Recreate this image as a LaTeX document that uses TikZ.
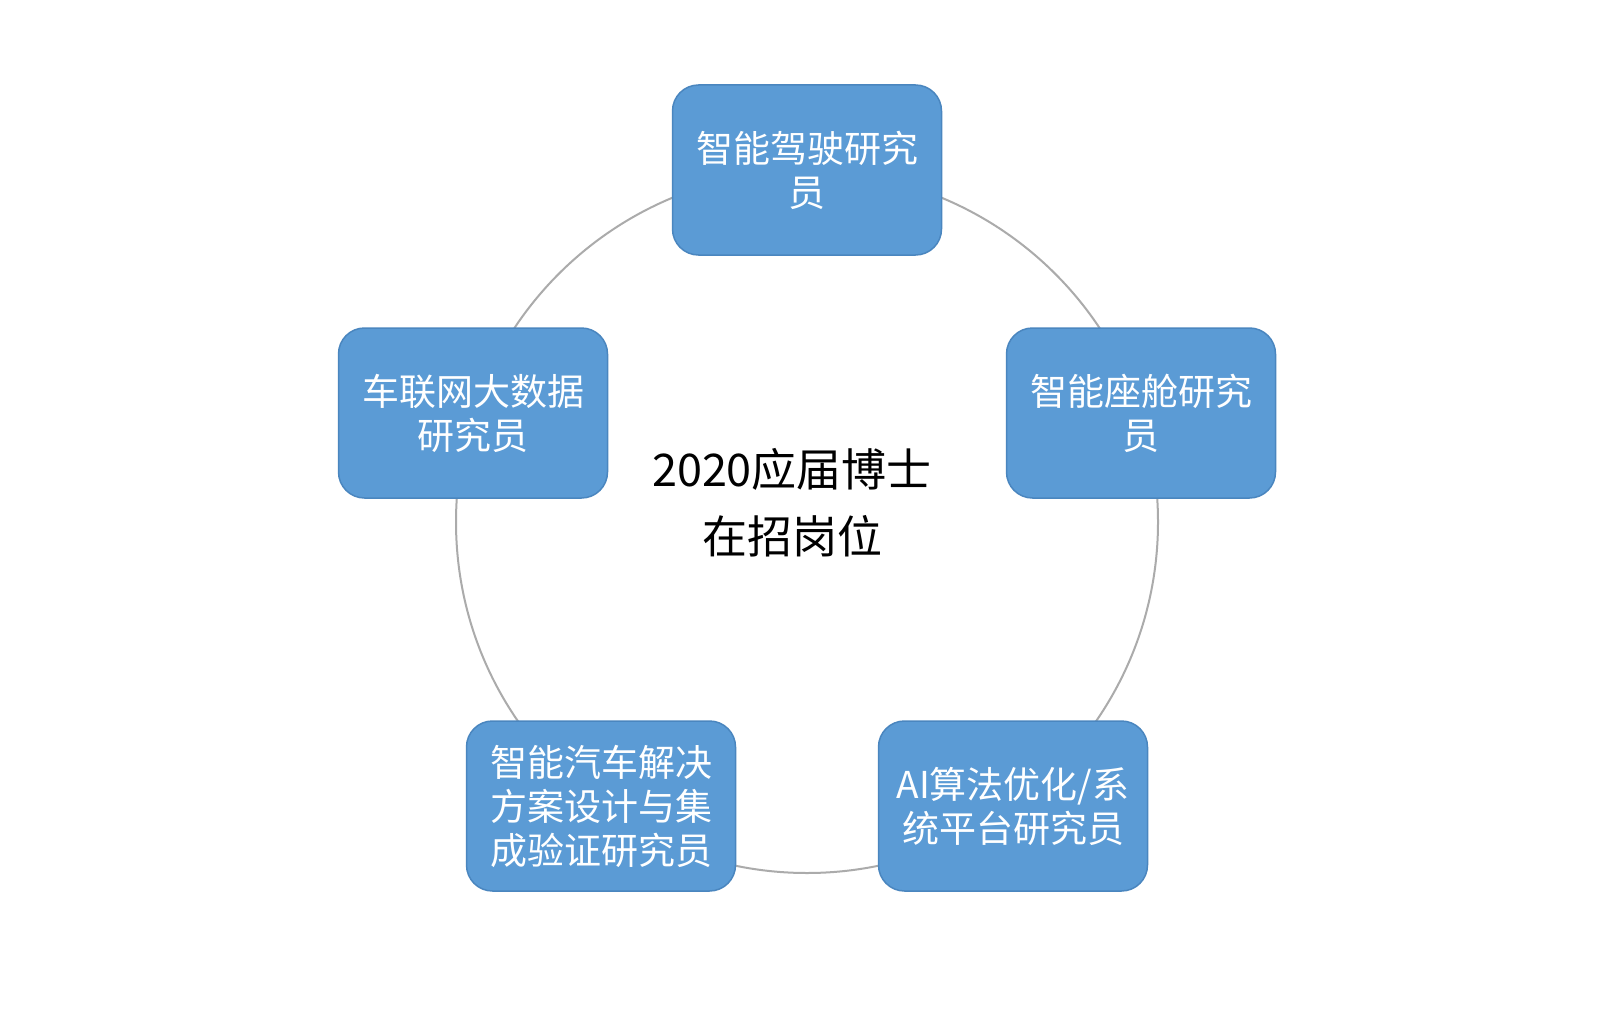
\documentclass[tikz,border=0pt]{standalone}
\usepackage{fontspec}
\setmainfont{Noto Sans CJK SC}
\definecolor{boxblue}{HTML}{5B9BD5}
\definecolor{boxedge}{HTML}{4A86BF}
\definecolor{ringgray}{HTML}{ABABAB}
\begin{document}
\begin{tikzpicture}[x=1pt,y=-1pt,
  rolebox/.style={rounded corners=26pt, fill=boxblue, draw=boxedge, line width=1.5pt,
    minimum width=269pt, minimum height=170pt, text=white, align=center,
    font=\fontsize{37}{44}\selectfont, inner sep=0pt},
  ring/.style={draw=ringgray, line width=2pt},
  centertext/.style={align=center, text=black, font=\fontsize{45}{67}\selectfont}]
\useasboundingbox[fill=white] (0,0) rectangle (1600,1022);
\coordinate (c) at (807,522);
\draw[ring] (c) circle[radius=351pt];
\node[rolebox] (top) at (807,170) {智能驾驶研究\\员};
\node[rolebox] (right) at (1141,413) {智能座舱研究\\员};
\node[rolebox] (left) at (473,413) {车联网大数据\\研究员};
\node[rolebox] (bl) at (601,806) {智能汽车解决\\方案设计与集\\成验证研究员};
\node[rolebox] (br) at (1013,806) {AI算法优化/系\\统平台研究员};
\node[centertext] (mid) at (792,503) {2020应届博士\\在招岗位};
\end{tikzpicture}
\end{document}
